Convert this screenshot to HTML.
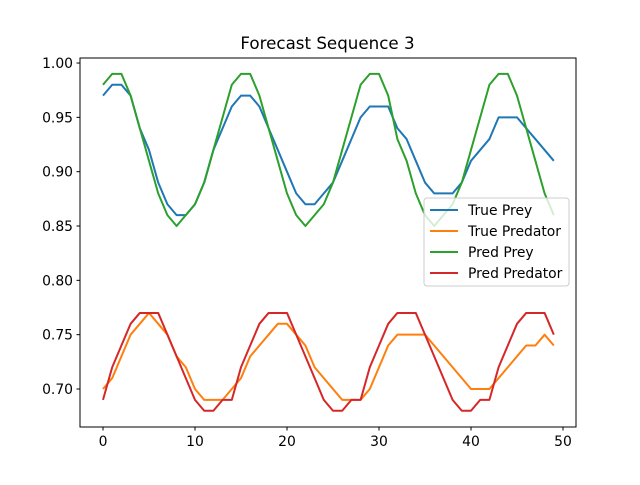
<!DOCTYPE html>
<html><head><meta charset="utf-8"><style>
body{margin:0;background:#fff}
svg text{font-family:"DejaVu Sans","Liberation Sans",sans-serif}
</style></head><body>
<svg width="640" height="480" id="chart">
<rect width="640" height="480" fill="#fff"/>
<text x="327.5" y="49" text-anchor="middle" font-size="16.7">Forecast Sequence 3</text>
<g id="ticks"></g>
<g id="lines"></g>
<rect x="80" y="58" width="496" height="369" fill="none" stroke="#000" stroke-width="1"/>
<g>
<rect x="424" y="198" width="145" height="88" rx="3" fill="#fff" fill-opacity="0.8" stroke="#ccc"/>
<g><line x1="430" y1="210" x2="458" y2="210" stroke="#1f77b4" stroke-width="2"/><text x="468" y="215" font-size="13.9">True Prey</text></g>
<g><line x1="430" y1="231" x2="458" y2="231" stroke="#ff7f0e" stroke-width="2"/><text x="468" y="236" font-size="13.9">True Predator</text></g>
<g><line x1="430" y1="252" x2="458" y2="252" stroke="#2ca02c" stroke-width="2"/><text x="468" y="257" font-size="13.9">Pred Prey</text></g>
<g><line x1="430" y1="273" x2="458" y2="273" stroke="#d62728" stroke-width="2"/><text x="468" y="278" font-size="13.9">Pred Predator</text></g>
</g>
</svg>
<script>
const trueprey=[.97,.98,.98,.97,.94,.92,.89,.87,.86,.86,.87,.89,.92,.94,.96,.97,.97,.96,.94,.92,.90,.88,.87,.87,.88,.89,.91,.93,.95,.96,.96,.96,.94,.93,.91,.89,.88,.88,.88,.89,.91,.92,.93,.95,.95,.95,.94,.93,.92,.91];
const truepred=[.70,.71,.73,.75,.76,.77,.76,.75,.73,.72,.70,.69,.69,.69,.70,.71,.73,.74,.75,.76,.76,.75,.74,.72,.71,.70,.69,.69,.69,.70,.72,.74,.75,.75,.75,.75,.74,.73,.72,.71,.70,.70,.70,.71,.72,.73,.74,.74,.75,.74];
const predprey=[.98,.99,.99,.97,.94,.91,.88,.86,.85,.86,.87,.89,.92,.95,.98,.99,.99,.97,.94,.91,.88,.86,.85,.86,.87,.89,.92,.95,.98,.99,.99,.97,.93,.91,.88,.86,.85,.86,.87,.89,.92,.95,.98,.99,.99,.97,.94,.91,.88,.86];
const predpred=[.69,.72,.74,.76,.77,.77,.77,.75,.73,.71,.69,.68,.68,.69,.69,.72,.74,.76,.77,.77,.77,.75,.73,.71,.69,.68,.68,.69,.69,.72,.74,.76,.77,.77,.77,.75,.73,.71,.69,.68,.68,.69,.69,.72,.74,.76,.77,.77,.77,.75];
const xTicks=[0,10,20,30,40,50];
const yTicks=[0.70,0.75,0.80,0.85,0.90,0.95,1.00];
const ns="http://www.w3.org/2000/svg";
function X(i){return 103+i*9.2;}
function Y(v){return 389-(v-0.70)*1086.6;}
const tg=document.getElementById('ticks');
xTicks.forEach(t=>{
 const l=document.createElementNS(ns,'line');
 l.setAttribute('x1',X(t));l.setAttribute('x2',X(t));l.setAttribute('y1',427);l.setAttribute('y2',430.5);l.setAttribute('stroke','#000');
 
 
 tg.appendChild(l);
 const tx=document.createElementNS(ns,'text');
 tx.setAttribute('x',X(t));tx.setAttribute('y',446);tx.setAttribute('text-anchor','middle');tx.setAttribute('font-size','13.9');
 tx.textContent=t;
 
 
 tg.appendChild(tx);
});
yTicks.forEach(t=>{
 const l=document.createElementNS(ns,'line');
 l.setAttribute('x1',76.5);l.setAttribute('x2',80);l.setAttribute('y1',Y(t));l.setAttribute('y2',Y(t));l.setAttribute('stroke','#000');
 
 
 tg.appendChild(l);
 const tx=document.createElementNS(ns,'text');
 tx.setAttribute('x',73);tx.setAttribute('y',Y(t)+5);tx.setAttribute('text-anchor','end');tx.setAttribute('font-size','13.9');
 tx.textContent=t.toFixed(2);
 
 
 tg.appendChild(tx);
});
const lg=document.getElementById('lines');
[[trueprey,'#1f77b4','true-prey-line'],[truepred,'#ff7f0e','true-predator-line'],[predprey,'#2ca02c','pred-prey-line'],[predpred,'#d62728','pred-predator-line']].forEach(s=>{
 const p=document.createElementNS(ns,'polyline');
 p.setAttribute('points',s[0].map((v,i)=>X(i)+','+Y(v)).join(' '));
 p.setAttribute('fill','none');p.setAttribute('stroke',s[1]);p.setAttribute('stroke-width','2');p.setAttribute('stroke-linejoin','round');
 
 
 lg.appendChild(p);
});
</script>
</body></html>
